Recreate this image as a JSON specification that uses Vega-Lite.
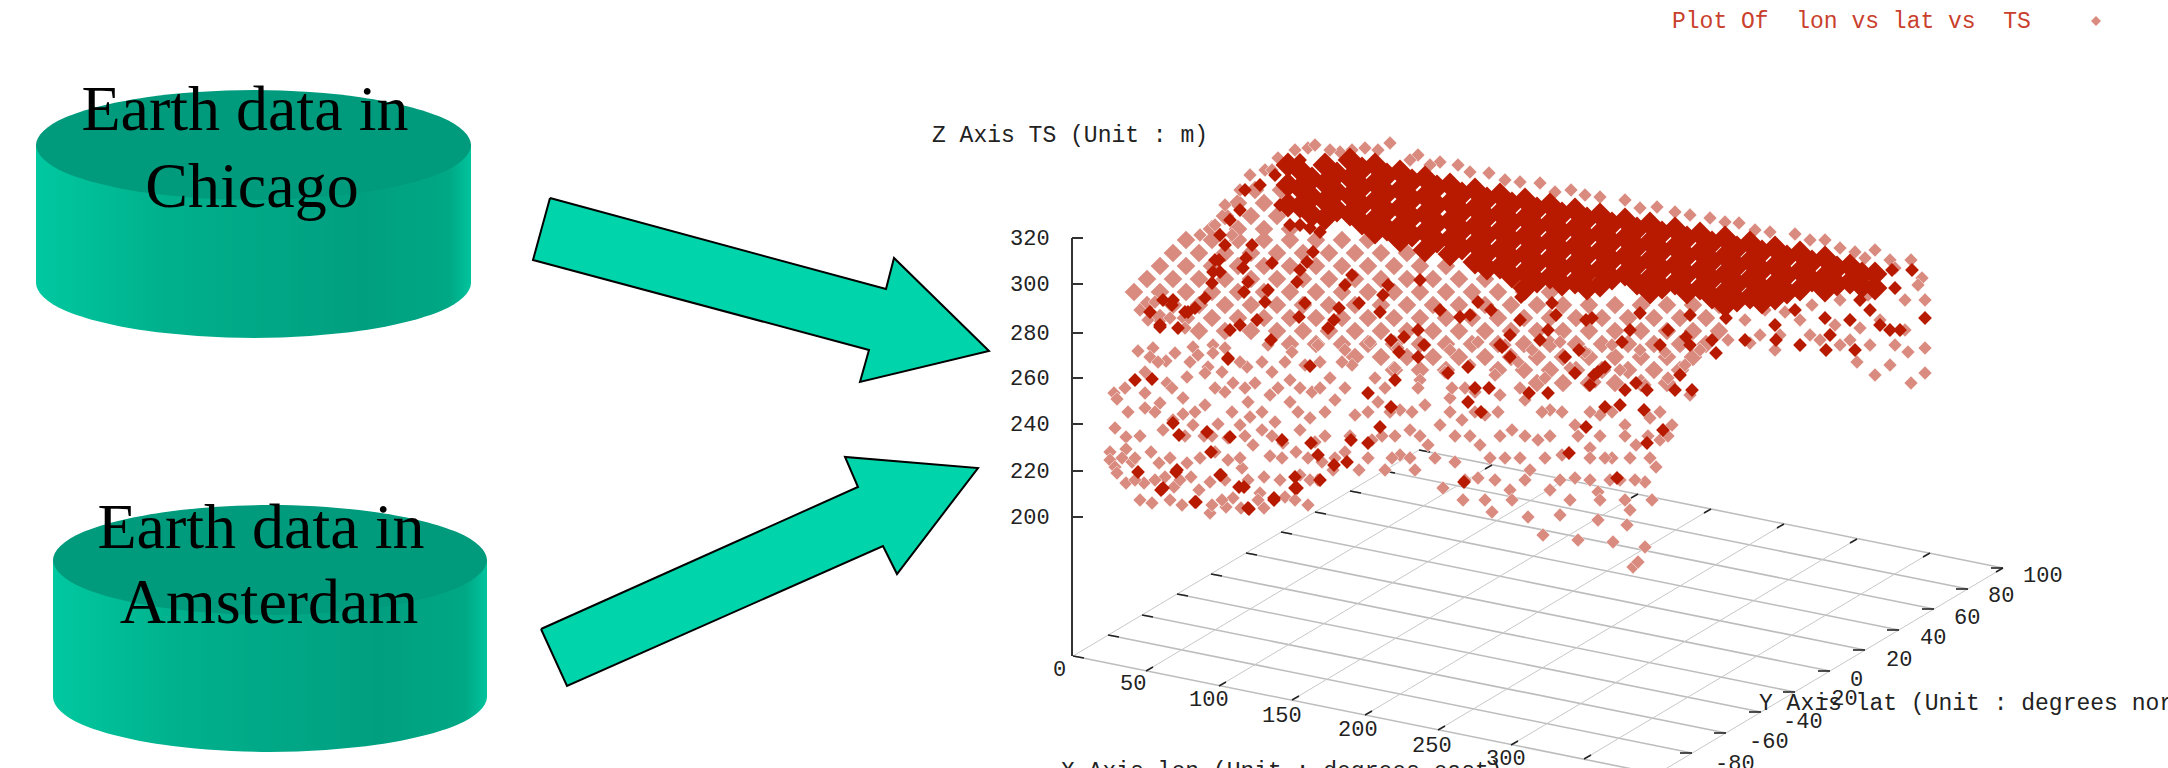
{"$schema":"https://vega.github.io/schema/vega-lite/v6.json","width":2168,"height":768,"padding":0,"autosize":{"type":"none"},"background":"white","config":{"view":{"stroke":null}},
"datasets":{
"ell":[
{"s":"c1b","o":1,"x":471,"y":283},{"s":"c1b","o":2,"x":442,"y":310.5},{"s":"c1b","o":3,"x":362,"y":330.6},{"s":"c1b","o":4,"x":254,"y":338},{"s":"c1b","o":5,"x":145,"y":330.6},{"s":"c1b","o":6,"x":65,"y":310.5},{"s":"c1b","o":7,"x":36,"y":283},{"s":"c1b","o":8,"x":65,"y":255.5},{"s":"c1b","o":9,"x":145,"y":235.4},{"s":"c1b","o":10,"x":254,"y":228},{"s":"c1b","o":11,"x":362,"y":235.4},{"s":"c1b","o":12,"x":442,"y":255.5},
{"s":"c2b","o":1,"x":487,"y":697},{"s":"c2b","o":2,"x":458,"y":724.5},{"s":"c2b","o":3,"x":378,"y":744.6},{"s":"c2b","o":4,"x":270,"y":752},{"s":"c2b","o":5,"x":162,"y":744.6},{"s":"c2b","o":6,"x":82,"y":724.5},{"s":"c2b","o":7,"x":53,"y":697},{"s":"c2b","o":8,"x":82,"y":669.5},{"s":"c2b","o":9,"x":162,"y":649.4},{"s":"c2b","o":10,"x":270,"y":642},{"s":"c2b","o":11,"x":378,"y":649.4},{"s":"c2b","o":12,"x":458,"y":669.5}],
"top":[
{"s":"c1t","o":1,"x":471,"y":145},{"s":"c1t","o":2,"x":442,"y":172.5},{"s":"c1t","o":3,"x":362,"y":192.6},{"s":"c1t","o":4,"x":254,"y":200},{"s":"c1t","o":5,"x":145,"y":192.6},{"s":"c1t","o":6,"x":65,"y":172.5},{"s":"c1t","o":7,"x":36,"y":145},{"s":"c1t","o":8,"x":65,"y":117.5},{"s":"c1t","o":9,"x":145,"y":97.4},{"s":"c1t","o":10,"x":254,"y":90},{"s":"c1t","o":11,"x":362,"y":97.4},{"s":"c1t","o":12,"x":442,"y":117.5},
{"s":"c2t","o":1,"x":487,"y":560},{"s":"c2t","o":2,"x":458,"y":587.5},{"s":"c2t","o":3,"x":378,"y":607.6},{"s":"c2t","o":4,"x":270,"y":615},{"s":"c2t","o":5,"x":162,"y":607.6},{"s":"c2t","o":6,"x":82,"y":587.5},{"s":"c2t","o":7,"x":53,"y":560},{"s":"c2t","o":8,"x":82,"y":532.5},{"s":"c2t","o":9,"x":162,"y":512.4},{"s":"c2t","o":10,"x":270,"y":505},{"s":"c2t","o":11,"x":378,"y":512.4},{"s":"c2t","o":12,"x":458,"y":532.5}],
"sides":[{"x":36,"x2":471,"y":145,"y2":283},{"x":53,"x2":487,"y":560,"y2":697}],
"arrows":[
{"s":"a1","o":1,"x":550,"y":198},{"s":"a1","o":2,"x":886,"y":289},{"s":"a1","o":3,"x":894,"y":258},{"s":"a1","o":4,"x":989,"y":351},{"s":"a1","o":5,"x":860,"y":382},{"s":"a1","o":6,"x":869,"y":350},{"s":"a1","o":7,"x":533,"y":260},{"s":"a1","o":8,"x":550,"y":198},
{"s":"a2","o":1,"x":541,"y":629},{"s":"a2","o":2,"x":858,"y":487},{"s":"a2","o":3,"x":845,"y":457},{"s":"a2","o":4,"x":978,"y":468},{"s":"a2","o":5,"x":897,"y":574},{"s":"a2","o":6,"x":883,"y":546},{"s":"a2","o":7,"x":567,"y":686},{"s":"a2","o":8,"x":541,"y":629}],
"latg":[{"x":1073,"y":656,"x2":1657,"y2":774},{"x":1108,"y":635,"x2":1692,"y2":753},{"x":1142,"y":615,"x2":1726,"y2":733},{"x":1177,"y":594,"x2":1761,"y2":712},{"x":1211,"y":574,"x2":1795,"y2":692},{"x":1246,"y":553,"x2":1830,"y2":671},{"x":1281,"y":532,"x2":1865,"y2":650},{"x":1315,"y":512,"x2":1899,"y2":630},{"x":1350,"y":491,"x2":1934,"y2":609},{"x":1384,"y":471,"x2":1968,"y2":589},{"x":1419,"y":450,"x2":2003,"y2":568}],
"long":[{"x":1073,"y":656,"x2":1419,"y2":450},{"x":1146,"y":671,"x2":1492,"y2":465},{"x":1219,"y":686,"x2":1565,"y2":480},{"x":1292,"y":700,"x2":1638,"y2":494},{"x":1365,"y":715,"x2":1711,"y2":509},{"x":1438,"y":730,"x2":1784,"y2":524},{"x":1511,"y":745,"x2":1857,"y2":539},{"x":1584,"y":759,"x2":1930,"y2":553},{"x":1657,"y":774,"x2":2003,"y2":568}],
"ticks":[{"x":1073,"y":656,"x2":1084,"y2":658},{"x":1108,"y":635,"x2":1119,"y2":637},{"x":1142,"y":615,"x2":1153,"y2":617},{"x":1177,"y":594,"x2":1188,"y2":596},{"x":1211,"y":574,"x2":1222,"y2":576},{"x":1246,"y":553,"x2":1257,"y2":555},{"x":1281,"y":532,"x2":1292,"y2":534},{"x":1315,"y":512,"x2":1326,"y2":514},{"x":1350,"y":491,"x2":1361,"y2":493},{"x":1384,"y":471,"x2":1395,"y2":473},{"x":1419,"y":450,"x2":1430,"y2":452},
{"x":1680,"y":753,"x2":1692,"y2":753},{"x":1714,"y":733,"x2":1726,"y2":733},{"x":1749,"y":712,"x2":1761,"y2":712},{"x":1783,"y":692,"x2":1795,"y2":692},{"x":1818,"y":671,"x2":1830,"y2":671},{"x":1853,"y":650,"x2":1865,"y2":650},{"x":1887,"y":630,"x2":1899,"y2":630},{"x":1922,"y":609,"x2":1934,"y2":609},{"x":1956,"y":589,"x2":1968,"y2":589},{"x":1991,"y":568,"x2":2003,"y2":568},
{"x":1146,"y":671,"x2":1153,"y2":667},{"x":1219,"y":686,"x2":1226,"y2":682},{"x":1292,"y":700,"x2":1299,"y2":696},{"x":1365,"y":715,"x2":1372,"y2":711},{"x":1438,"y":730,"x2":1445,"y2":726},{"x":1511,"y":745,"x2":1518,"y2":741},{"x":1584,"y":759,"x2":1591,"y2":755},
{"x":1492,"y":465,"x2":1485,"y2":469},{"x":1565,"y":480,"x2":1558,"y2":484},{"x":1638,"y":494,"x2":1631,"y2":498},{"x":1711,"y":509,"x2":1704,"y2":513},{"x":1784,"y":524,"x2":1777,"y2":528},{"x":1857,"y":539,"x2":1850,"y2":543},{"x":1930,"y":553,"x2":1923,"y2":557},{"x":2003,"y":568,"x2":1996,"y2":572}],
"zaxis":[{"x":1072,"y":238,"x2":1072,"y2":656},{"x":1072,"y":238,"x2":1083,"y2":238},{"x":1072,"y":284,"x2":1083,"y2":284},{"x":1072,"y":333,"x2":1083,"y2":333},{"x":1072,"y":378,"x2":1083,"y2":378},{"x":1072,"y":424,"x2":1083,"y2":424},{"x":1072,"y":471,"x2":1083,"y2":471},{"x":1072,"y":517,"x2":1083,"y2":517}],
"back":[
{"x":1255,"y":190},{"x":1281,"y":190},{"x":1238,"y":203},{"x":1264,"y":203},{"x":1290,"y":203},{"x":1225,"y":216},{"x":1251,"y":216},{"x":1277,"y":216},{"x":1212,"y":229},{"x":1238,"y":229},{"x":1264,"y":229},{"x":1290,"y":229},
{"x":1186,"y":240},{"x":1212,"y":240},{"x":1238,"y":240},{"x":1264,"y":240},{"x":1290,"y":240},{"x":1316,"y":240},{"x":1342,"y":240},{"x":1368,"y":240},
{"x":1173,"y":253},{"x":1199,"y":253},{"x":1225,"y":253},{"x":1251,"y":253},{"x":1277,"y":253},{"x":1303,"y":253},{"x":1329,"y":253},{"x":1355,"y":253},{"x":1381,"y":253},{"x":1407,"y":253},
{"x":1160,"y":266},{"x":1186,"y":266},{"x":1212,"y":266},{"x":1238,"y":266},{"x":1264,"y":266},{"x":1290,"y":266},{"x":1316,"y":266},{"x":1342,"y":266},{"x":1368,"y":266},{"x":1394,"y":266},{"x":1420,"y":266},{"x":1446,"y":266},
{"x":1147,"y":279},{"x":1173,"y":279},{"x":1199,"y":279},{"x":1225,"y":279},{"x":1251,"y":279},{"x":1277,"y":279},{"x":1303,"y":279},{"x":1329,"y":279},{"x":1355,"y":279},{"x":1381,"y":279},{"x":1407,"y":279},{"x":1433,"y":279},{"x":1459,"y":279},{"x":1485,"y":279},
{"x":1134,"y":292},{"x":1160,"y":292},{"x":1186,"y":292},{"x":1212,"y":292},{"x":1238,"y":292},{"x":1264,"y":292},{"x":1290,"y":292},{"x":1316,"y":292},{"x":1342,"y":292},{"x":1368,"y":292},{"x":1394,"y":292},{"x":1420,"y":292},{"x":1446,"y":292},{"x":1472,"y":292},{"x":1498,"y":292},{"x":1524,"y":292},{"x":1550,"y":292},
{"x":1147,"y":305},{"x":1173,"y":305},{"x":1199,"y":305},{"x":1225,"y":305},{"x":1251,"y":305},{"x":1277,"y":305},{"x":1303,"y":305},{"x":1329,"y":305},{"x":1355,"y":305},{"x":1381,"y":305},{"x":1407,"y":305},{"x":1433,"y":305},{"x":1459,"y":305},{"x":1485,"y":305},{"x":1511,"y":305},{"x":1537,"y":305},{"x":1563,"y":305},{"x":1589,"y":305},{"x":1615,"y":305},{"x":1641,"y":305},{"x":1667,"y":305},{"x":1693,"y":305},{"x":1719,"y":305},
{"x":1160,"y":318},{"x":1186,"y":318},{"x":1212,"y":318},{"x":1238,"y":318},{"x":1264,"y":318},{"x":1290,"y":318},{"x":1316,"y":318},{"x":1342,"y":318},{"x":1368,"y":318},{"x":1394,"y":318},{"x":1420,"y":318},{"x":1446,"y":318},{"x":1472,"y":318},{"x":1498,"y":318},{"x":1524,"y":318},{"x":1550,"y":318},{"x":1576,"y":318},{"x":1602,"y":318},{"x":1628,"y":318},{"x":1654,"y":318},{"x":1680,"y":318},{"x":1706,"y":318},
{"x":1199,"y":331},{"x":1225,"y":331},{"x":1251,"y":331},{"x":1277,"y":331},{"x":1303,"y":331},{"x":1329,"y":331},{"x":1355,"y":331},{"x":1381,"y":331},{"x":1407,"y":331},{"x":1433,"y":331},{"x":1459,"y":331},{"x":1485,"y":331},{"x":1511,"y":331},{"x":1537,"y":331},{"x":1563,"y":331},{"x":1589,"y":331},{"x":1615,"y":331},{"x":1641,"y":331},{"x":1667,"y":331},{"x":1693,"y":331},{"x":1719,"y":331},
{"x":1290,"y":344},{"x":1316,"y":344},{"x":1342,"y":344},{"x":1368,"y":344},{"x":1394,"y":344},{"x":1420,"y":344},{"x":1446,"y":344},{"x":1472,"y":344},{"x":1498,"y":344},{"x":1524,"y":344},{"x":1550,"y":344},{"x":1576,"y":344},{"x":1602,"y":344},{"x":1628,"y":344},{"x":1654,"y":344},{"x":1680,"y":344},{"x":1706,"y":344},
{"x":1355,"y":357},{"x":1381,"y":357},{"x":1407,"y":357},{"x":1433,"y":357},{"x":1459,"y":357},{"x":1485,"y":357},{"x":1511,"y":357},{"x":1537,"y":357},{"x":1563,"y":357},{"x":1589,"y":357},{"x":1615,"y":357},{"x":1641,"y":357},{"x":1667,"y":357},{"x":1693,"y":357},
{"x":1394,"y":370},{"x":1420,"y":370},{"x":1446,"y":370},{"x":1498,"y":370},{"x":1524,"y":370},{"x":1550,"y":370},{"x":1576,"y":370},{"x":1602,"y":370},{"x":1628,"y":370},{"x":1654,"y":370},{"x":1680,"y":370},
{"x":1537,"y":383},{"x":1563,"y":383},{"x":1589,"y":383},{"x":1615,"y":383},{"x":1641,"y":383},{"x":1667,"y":383}],
"pale":[
{"x":1114,"y":393},{"x":1117,"y":399},{"x":1145,"y":393},{"x":1145,"y":408},{"x":1115,"y":428},{"x":1126,"y":437},{"x":1110,"y":452},{"x":1110,"y":460},{"x":1115,"y":467},{"x":1117,"y":473},{"x":1126,"y":449},{"x":1122,"y":458},{"x":1132,"y":462},{"x":1126,"y":483},{"x":1144,"y":483},{"x":1151,"y":452},{"x":1159,"y":463},{"x":1152,"y":503},{"x":1174,"y":487},{"x":1165,"y":477},{"x":1182,"y":505},{"x":1187,"y":463},{"x":1191,"y":477},{"x":1210,"y":513},{"x":1212,"y":505},{"x":1226,"y":507},{"x":1233,"y":498},{"x":1241,"y":508},{"x":1264,"y":508},{"x":1285,"y":497},{"x":1308,"y":505},{"x":1260,"y":493},{"x":1264,"y":477},{"x":1210,"y":482},{"x":1199,"y":490},{"x":1173,"y":420},{"x":1183,"y":414},{"x":1193,"y":425},{"x":1163,"y":430},{"x":1204,"y":436},{"x":1218,"y":424},{"x":1228,"y":438},{"x":1240,"y":425},{"x":1250,"y":417},{"x":1262,"y":430},{"x":1275,"y":422},{"x":1253,"y":445},{"x":1270,"y":456},{"x":1283,"y":443},{"x":1296,"y":452},{"x":1300,"y":430},{"x":1310,"y":418},{"x":1315,"y":442},{"x":1322,"y":462},{"x":1228,"y":460},{"x":1242,"y":468},{"x":1215,"y":452},{"x":1300,"y":475},{"x":1318,"y":480},{"x":1333,"y":470},{"x":1345,"y":452},{"x":1359,"y":470},{"x":1372,"y":440},{"x":1385,"y":470},{"x":1400,"y":455},{"x":1415,"y":470},{"x":1410,"y":430},{"x":1428,"y":445},{"x":1443,"y":488},{"x":1463,"y":500},{"x":1478,"y":478},{"x":1492,"y":512},{"x":1510,"y":490},{"x":1528,"y":517},{"x":1543,"y":535},{"x":1578,"y":540},{"x":1560,"y":515},{"x":1598,"y":520},{"x":1613,"y":542},{"x":1627,"y":525},{"x":1645,"y":547},{"x":1633,"y":567},{"x":1638,"y":562},{"x":1630,"y":510},{"x":1652,"y":500},{"x":1645,"y":482},{"x":1656,"y":467},{"x":1620,"y":480},{"x":1598,"y":492},{"x":1575,"y":478},{"x":1550,"y":490},{"x":1530,"y":470},{"x":1505,"y":458},{"x":1480,"y":445},{"x":1455,"y":462},{"x":1440,"y":425},{"x":1462,"y":420},{"x":1485,"y":415},{"x":1512,"y":430},{"x":1538,"y":440},{"x":1562,"y":455},{"x":1590,"y":448},{"x":1612,"y":458},{"x":1636,"y":445},{"x":1660,"y":440},{"x":1672,"y":425},{"x":1650,"y":418},{"x":1625,"y":425},{"x":1600,"y":415},{"x":1575,"y":425},{"x":1550,"y":410},{"x":1525,"y":400},{"x":1500,"y":395},{"x":1475,"y":392},{"x":1450,"y":398},{"x":1425,"y":405},{"x":1400,"y":410},{"x":1378,"y":402},{"x":1355,"y":415},{"x":1335,"y":400},{"x":1312,"y":392},{"x":1290,"y":402},{"x":1270,"y":395},{"x":1248,"y":402},{"x":1225,"y":392},{"x":1205,"y":405},{"x":1183,"y":398},{"x":1160,"y":403},
{"x":1138,"y":351},{"x":1153,"y":348},{"x":1150,"y":357},{"x":1175,"y":353},{"x":1166,"y":361},{"x":1193,"y":347},{"x":1198,"y":355},{"x":1213,"y":345},{"x":1225,"y":348},{"x":1213,"y":353},{"x":1247,"y":367},{"x":1208,"y":367},{"x":1205,"y":373},{"x":1222,"y":372},{"x":1233,"y":383},{"x":1255,"y":383},{"x":1187,"y":377},{"x":1167,"y":383},{"x":1145,"y":372},{"x":1272,"y":372},{"x":1290,"y":380},{"x":1305,"y":365},{"x":1330,"y":378},{"x":1352,"y":365},{"x":1375,"y":378},{"x":1395,"y":368},{"x":1420,"y":380},{"x":1445,"y":372},{"x":1470,"y":365},{"x":1495,"y":375},{"x":1518,"y":362},{"x":1545,"y":378},{"x":1570,"y":368},{"x":1595,"y":382},{"x":1620,"y":370},{"x":1645,"y":385},{"x":1668,"y":378},{"x":1690,"y":395},{"x":1685,"y":365},{"x":1700,"y":350},{"x":1665,"y":352},{"x":1640,"y":350},{"x":1612,"y":345},{"x":1585,"y":352},{"x":1560,"y":342},{"x":1532,"y":350},{"x":1505,"y":345},{"x":1478,"y":342},{"x":1450,"y":350},{"x":1425,"y":345},{"x":1398,"y":348},{"x":1370,"y":342},{"x":1345,"y":350},{"x":1318,"y":345},{"x":1292,"y":352},{"x":1268,"y":345},
{"x":1140,"y":310},{"x":1155,"y":302},{"x":1148,"y":320},{"x":1170,"y":318},{"x":1185,"y":328},{"x":1728,"y":340},{"x":1745,"y":320},{"x":1760,"y":335},{"x":1775,"y":350},{"x":1750,"y":343},{"x":1800,"y":320},{"x":1820,"y":340},{"x":1835,"y":325},{"x":1857,"y":362},{"x":1850,"y":340},{"x":1870,"y":345},{"x":1875,"y":375},{"x":1890,"y":365},{"x":1911,"y":383},{"x":1925,"y":373},{"x":1925,"y":348},{"x":1905,"y":330},{"x":1925,"y":300},{"x":1922,"y":278},{"x":1918,"y":285},{"x":1911,"y":260},{"x":1890,"y":260},{"x":1880,"y":320},{"x":1895,"y":345},{"x":1765,"y":310},{"x":1785,"y":312},{"x":1812,"y":305},{"x":1840,"y":300},{"x":1868,"y":295},{"x":1905,"y":300},{"x":1860,"y":328},{"x":1810,"y":335},{"x":1780,"y":335},{"x":1840,"y":345},{"x":1908,"y":352},
{"x":1200,"y":235},{"x":1215,"y":225},{"x":1232,"y":235},{"x":1225,"y":205},{"x":1240,"y":190},{"x":1250,"y":175},{"x":1265,"y":170},{"x":1278,"y":158},{"x":1295,"y":150},{"x":1308,"y":148},{"x":1315,"y":145},{"x":1340,"y":152},{"x":1365,"y":148},{"x":1390,"y":143},{"x":1418,"y":155},{"x":1440,"y":162},{"x":1458,"y":165},{"x":1489,"y":173},{"x":1520,"y":182},{"x":1540,"y":183},{"x":1571,"y":190},{"x":1600,"y":197},{"x":1625,"y":200},{"x":1657,"y":207},{"x":1690,"y":215},{"x":1710,"y":218},{"x":1739,"y":223},{"x":1770,"y":232},{"x":1795,"y":234},{"x":1825,"y":240},{"x":1855,"y":252},{"x":1875,"y":250},{"x":1410,"y":160},{"x":1430,"y":165},{"x":1470,"y":172},{"x":1505,"y":180},{"x":1555,"y":192},{"x":1585,"y":195},{"x":1640,"y":208},{"x":1675,"y":212},{"x":1725,"y":222},{"x":1755,"y":230},{"x":1810,"y":240},{"x":1840,"y":248},{"x":1865,"y":258},{"x":1895,"y":268},{"x":1330,"y":150},{"x":1352,"y":150},{"x":1378,"y":150},{"x":1272,"y":170},{"x":1285,"y":165},
{"x":1158,"y":362},{"x":1190,"y":362},{"x":1240,"y":362},{"x":1262,"y":362},{"x":1285,"y":362},{"x":1320,"y":362},{"x":1342,"y":362},{"x":1125,"y":388},{"x":1172,"y":388},{"x":1215,"y":388},{"x":1245,"y":388},{"x":1278,"y":388},{"x":1300,"y":388},{"x":1320,"y":388},{"x":1345,"y":388},{"x":1385,"y":388},{"x":1418,"y":388},{"x":1452,"y":388},{"x":1465,"y":388},{"x":1520,"y":388},{"x":1128,"y":412},{"x":1155,"y":412},{"x":1195,"y":412},{"x":1232,"y":412},{"x":1262,"y":412},{"x":1298,"y":412},{"x":1325,"y":412},{"x":1368,"y":412},{"x":1390,"y":412},{"x":1412,"y":412},{"x":1450,"y":412},{"x":1475,"y":412},{"x":1498,"y":412},{"x":1542,"y":412},{"x":1562,"y":412},{"x":1590,"y":412},{"x":1612,"y":412},{"x":1660,"y":412},{"x":1140,"y":436},{"x":1185,"y":436},{"x":1212,"y":436},{"x":1245,"y":436},{"x":1272,"y":436},{"x":1325,"y":436},{"x":1350,"y":436},{"x":1382,"y":436},{"x":1395,"y":436},{"x":1420,"y":436},{"x":1455,"y":436},{"x":1470,"y":436},{"x":1500,"y":436},{"x":1525,"y":436},{"x":1550,"y":436},{"x":1578,"y":436},{"x":1600,"y":436},{"x":1625,"y":436},{"x":1648,"y":436},{"x":1668,"y":436},{"x":1135,"y":458},{"x":1170,"y":458},{"x":1200,"y":458},{"x":1240,"y":458},{"x":1282,"y":458},{"x":1308,"y":458},{"x":1335,"y":458},{"x":1368,"y":458},{"x":1392,"y":458},{"x":1410,"y":458},{"x":1435,"y":458},{"x":1490,"y":458},{"x":1520,"y":458},{"x":1545,"y":458},{"x":1590,"y":458},{"x":1605,"y":458},{"x":1630,"y":458},{"x":1650,"y":458},{"x":1135,"y":480},{"x":1155,"y":480},{"x":1180,"y":480},{"x":1225,"y":480},{"x":1248,"y":480},{"x":1280,"y":480},{"x":1310,"y":480},{"x":1465,"y":480},{"x":1495,"y":480},{"x":1525,"y":480},{"x":1560,"y":480},{"x":1590,"y":480},{"x":1610,"y":480},{"x":1635,"y":480},{"x":1140,"y":500},{"x":1170,"y":500},{"x":1222,"y":500},{"x":1258,"y":500},{"x":1295,"y":500},{"x":1485,"y":500},{"x":1512,"y":500},{"x":1570,"y":500},{"x":1600,"y":500},{"x":1625,"y":500}
],
"solid":[
{"x":1135,"y":380},{"x":1152,"y":379},{"x":1138,"y":472},{"x":1163,"y":488},{"x":1195,"y":502},{"x":1176,"y":472},{"x":1249,"y":509},{"x":1274,"y":500},{"x":1297,"y":488},{"x":1239,"y":487},{"x":1220,"y":475},{"x":1228,"y":359},{"x":1150,"y":312},{"x":1163,"y":300},{"x":1172,"y":305},{"x":1185,"y":312},{"x":1195,"y":308},{"x":1160,"y":325},{"x":1178,"y":328},{"x":1205,"y":298},{"x":1212,"y":283},{"x":1220,"y":272},{"x":1215,"y":260},{"x":1225,"y":245},{"x":1243,"y":268},{"x":1246,"y":258},{"x":1252,"y":245},{"x":1265,"y":302},{"x":1268,"y":290},{"x":1300,"y":270},{"x":1307,"y":262},{"x":1313,"y":252},{"x":1345,"y":285},{"x":1352,"y":275},{"x":1383,"y":295},{"x":1388,"y":285},{"x":1420,"y":280},{"x":1440,"y":310},{"x":1470,"y":315},{"x":1478,"y":302},{"x":1500,"y":345},{"x":1510,"y":335},{"x":1520,"y":320},{"x":1540,"y":340},{"x":1548,"y":330},{"x":1556,"y":315},{"x":1592,"y":318},{"x":1622,"y":342},{"x":1630,"y":330},{"x":1660,"y":345},{"x":1668,"y":330},{"x":1690,"y":315},{"x":1675,"y":390},{"x":1680,"y":375},{"x":1690,"y":345},{"x":1620,"y":405},{"x":1625,"y":390},{"x":1590,"y":385},{"x":1598,"y":372},{"x":1230,"y":330},{"x":1240,"y":325},{"x":1712,"y":340},{"x":1726,"y":318},{"x":1745,"y":340},{"x":1776,"y":340},{"x":1775,"y":325},{"x":1800,"y":345},{"x":1795,"y":310},{"x":1825,"y":318},{"x":1830,"y":335},{"x":1826,"y":350},{"x":1850,"y":320},{"x":1855,"y":350},{"x":1880,"y":325},{"x":1890,"y":330},{"x":1925,"y":318},{"x":1895,"y":288},{"x":1892,"y":270},{"x":1912,"y":270},{"x":1870,"y":310},{"x":1860,"y":300},{"x":1900,"y":330},{"x":1300,"y":225},{"x":1310,"y":228},{"x":1320,"y":232},{"x":1245,"y":190},{"x":1260,"y":185},{"x":1275,"y":175},{"x":1240,"y":210},{"x":1230,"y":220},{"x":1280,"y":205},{"x":1290,"y":225},{"x":1220,"y":235},{"x":1300,"y":160},
{"x":1160,"y":327},{"x":1173,"y":300},{"x":1188,"y":312},{"x":1219,"y":260},{"x":1213,"y":272},{"x":1248,"y":282},{"x":1244,"y":292},{"x":1257,"y":320},{"x":1271,"y":340},{"x":1272,"y":263},{"x":1297,"y":282},{"x":1305,"y":303},{"x":1299,"y":317},{"x":1334,"y":320},{"x":1339,"y":308},{"x":1328,"y":328},{"x":1359,"y":303},{"x":1380,"y":312},{"x":1391,"y":340},{"x":1404,"y":337},{"x":1424,"y":345},{"x":1418,"y":357},{"x":1399,"y":352},{"x":1395,"y":380},{"x":1368,"y":393},{"x":1391,"y":407},{"x":1468,"y":402},{"x":1481,"y":412},{"x":1475,"y":388},{"x":1489,"y":388},{"x":1529,"y":393},{"x":1548,"y":393},{"x":1575,"y":373},{"x":1594,"y":375},{"x":1605,"y":367},{"x":1636,"y":383},{"x":1647,"y":390},{"x":1644,"y":410},{"x":1663,"y":430},{"x":1586,"y":427},{"x":1605,"y":407},{"x":1692,"y":390},{"x":1565,"y":357},{"x":1579,"y":350},{"x":1510,"y":357},{"x":1502,"y":347},{"x":1468,"y":367},{"x":1448,"y":373},{"x":1418,"y":330},{"x":1460,"y":317},{"x":1491,"y":310},{"x":1521,"y":297},{"x":1552,"y":303},{"x":1586,"y":320},{"x":1640,"y":313},{"x":1686,"y":337},{"x":1716,"y":353},
{"x":1230,"y":437},{"x":1211,"y":452},{"x":1282,"y":440},{"x":1311,"y":443},{"x":1318,"y":455},{"x":1351,"y":440},{"x":1368,"y":443},{"x":1380,"y":427},{"x":1334,"y":465},{"x":1347,"y":462},{"x":1320,"y":480},{"x":1295,"y":477},{"x":1295,"y":488},{"x":1274,"y":498},{"x":1244,"y":487},{"x":1248,"y":508},{"x":1221,"y":475},{"x":1196,"y":502},{"x":1161,"y":490},{"x":1177,"y":470},{"x":1173,"y":423},{"x":1179,"y":435},{"x":1207,"y":432},{"x":1228,"y":358},{"x":1310,"y":366},{"x":1464,"y":482},{"x":1569,"y":453},{"x":1617,"y":478},{"x":1647,"y":443}
],
"core":[
{"x":1300,"y":170},{"x":1300,"y":188},{"x":1300,"y":206},{"x":1325,"y":165},{"x":1325,"y":183},{"x":1325,"y":201},{"x":1325,"y":218},{"x":1350,"y":160},{"x":1350,"y":178},{"x":1350,"y":196},{"x":1350,"y":214},{"x":1375,"y":165},{"x":1375,"y":183},{"x":1375,"y":201},{"x":1375,"y":219},{"x":1375,"y":232},{"x":1400,"y":172},{"x":1400,"y":190},{"x":1400,"y":208},{"x":1400,"y":226},{"x":1400,"y":240},{"x":1425,"y":178},{"x":1425,"y":196},{"x":1425,"y":214},{"x":1425,"y":232},{"x":1425,"y":250},{"x":1450,"y":185},{"x":1450,"y":203},{"x":1450,"y":221},{"x":1450,"y":239},{"x":1450,"y":254},{"x":1475,"y":190},{"x":1475,"y":208},{"x":1475,"y":226},{"x":1475,"y":244},{"x":1475,"y":262},{"x":1500,"y":195},{"x":1500,"y":213},{"x":1500,"y":231},{"x":1500,"y":249},{"x":1500,"y":267},{"x":1525,"y":200},{"x":1525,"y":218},{"x":1525,"y":236},{"x":1525,"y":254},{"x":1525,"y":272},{"x":1525,"y":288},{"x":1550,"y":205},{"x":1550,"y":223},{"x":1550,"y":241},{"x":1550,"y":259},{"x":1550,"y":277},{"x":1575,"y":210},{"x":1575,"y":228},{"x":1575,"y":246},{"x":1575,"y":264},{"x":1575,"y":282},{"x":1600,"y":215},{"x":1600,"y":233},{"x":1600,"y":251},{"x":1600,"y":269},{"x":1600,"y":285},{"x":1625,"y":220},{"x":1625,"y":238},{"x":1625,"y":256},{"x":1625,"y":274},{"x":1650,"y":224},{"x":1650,"y":242},{"x":1650,"y":260},{"x":1650,"y":278},{"x":1650,"y":292},{"x":1675,"y":229},{"x":1675,"y":247},{"x":1675,"y":265},{"x":1675,"y":283},{"x":1700,"y":234},{"x":1700,"y":252},{"x":1700,"y":270},{"x":1700,"y":288},{"x":1725,"y":238},{"x":1725,"y":256},{"x":1725,"y":274},{"x":1725,"y":292},{"x":1725,"y":305},{"x":1750,"y":243},{"x":1750,"y":261},{"x":1750,"y":279},{"x":1750,"y":297},{"x":1775,"y":248},{"x":1775,"y":266},{"x":1775,"y":284},{"x":1775,"y":298},{"x":1800,"y":253},{"x":1800,"y":271},{"x":1800,"y":289},{"x":1825,"y":258},{"x":1825,"y":276},{"x":1825,"y":290},{"x":1850,"y":266},{"x":1850,"y":282},{"x":1875,"y":274},{"x":1875,"y":288},
{"x":1288,"y":165},{"x":1288,"y":185},{"x":1288,"y":205},{"x":1312,"y":179},{"x":1312,"y":197},{"x":1312,"y":215},{"x":1337,"y":174},{"x":1337,"y":192},{"x":1337,"y":210},{"x":1362,"y":169},{"x":1362,"y":187},{"x":1362,"y":205},{"x":1362,"y":223},{"x":1387,"y":175},{"x":1387,"y":193},{"x":1387,"y":211},{"x":1387,"y":229},{"x":1412,"y":181},{"x":1412,"y":199},{"x":1412,"y":217},{"x":1412,"y":235},{"x":1437,"y":187},{"x":1437,"y":205},{"x":1437,"y":223},{"x":1437,"y":241},{"x":1462,"y":194},{"x":1462,"y":212},{"x":1462,"y":230},{"x":1462,"y":248},{"x":1487,"y":199},{"x":1487,"y":217},{"x":1487,"y":235},{"x":1487,"y":253},{"x":1487,"y":268},{"x":1512,"y":204},{"x":1512,"y":222},{"x":1512,"y":240},{"x":1512,"y":258},{"x":1512,"y":276},{"x":1537,"y":209},{"x":1537,"y":227},{"x":1537,"y":245},{"x":1537,"y":263},{"x":1537,"y":281},{"x":1562,"y":214},{"x":1562,"y":232},{"x":1562,"y":250},{"x":1562,"y":268},{"x":1562,"y":284},{"x":1587,"y":219},{"x":1587,"y":237},{"x":1587,"y":255},{"x":1587,"y":273},{"x":1587,"y":288},{"x":1612,"y":224},{"x":1612,"y":242},{"x":1612,"y":260},{"x":1612,"y":278},{"x":1637,"y":229},{"x":1637,"y":247},{"x":1637,"y":265},{"x":1637,"y":283},{"x":1662,"y":233},{"x":1662,"y":251},{"x":1662,"y":269},{"x":1662,"y":287},{"x":1687,"y":238},{"x":1687,"y":256},{"x":1687,"y":274},{"x":1687,"y":292},{"x":1712,"y":243},{"x":1712,"y":261},{"x":1712,"y":279},{"x":1712,"y":297},{"x":1737,"y":248},{"x":1737,"y":266},{"x":1737,"y":284},{"x":1737,"y":300},{"x":1762,"y":252},{"x":1762,"y":270},{"x":1762,"y":288},{"x":1762,"y":302},{"x":1787,"y":257},{"x":1787,"y":275},{"x":1787,"y":292},{"x":1812,"y":262},{"x":1812,"y":280},{"x":1837,"y":268},{"x":1837,"y":284},{"x":1862,"y":274},{"x":1862,"y":286}],
"serif":[{"x":245,"y":111,"t":"Earth data in"},{"x":252,"y":188,"t":"Chicago"},{"x":261,"y":529,"t":"Earth data in"},{"x":269,"y":604,"t":"Amsterdam"}],
"mono":[{"x":1010,"y":238,"t":"320"},{"x":1010,"y":284,"t":"300"},{"x":1010,"y":333,"t":"280"},{"x":1010,"y":378,"t":"260"},{"x":1010,"y":424,"t":"240"},{"x":1010,"y":471,"t":"220"},{"x":1010,"y":517,"t":"200"},{"x":1053,"y":669,"t":"0"},{"x":1120,"y":683,"t":"50"},{"x":1189,"y":699,"t":"100"},{"x":1262,"y":715,"t":"150"},{"x":1338,"y":729,"t":"200"},{"x":1412,"y":745,"t":"250"},{"x":1486,"y":758,"t":"300"},{"x":2023,"y":575,"t":"100"},{"x":1988,"y":595,"t":"80"},{"x":1954,"y":617,"t":"60"},{"x":1920,"y":637,"t":"40"},{"x":1886,"y":659,"t":"20"},{"x":1850,"y":679,"t":"0"},{"x":1818,"y":698,"t":"-20"},{"x":1783,"y":721,"t":"-40"},{"x":1749,"y":741,"t":"-60"},{"x":1715,"y":763,"t":"-80"}],
"titles":[{"x":932,"y":135,"t":"Z Axis TS (Unit : m)"},{"x":1759,"y":703,"t":"Y Axis lat (Unit : degrees nor"},{"x":1061,"y":771,"t":"X Axis lon (Unit : degrees east)"}],
"plot":[{"x":1672,"y":21,"t":"Plot Of\u00a0\u00a0lon vs lat vs\u00a0\u00a0TS"}],
"key":[{"x":2096,"y":21}]
},
"encoding":{"x":{"field":"x","type":"quantitative","axis":null,"scale":{"domain":[0,2168],"nice":false,"zero":false}},"y":{"field":"y","type":"quantitative","axis":null,"scale":{"domain":[768,0],"nice":false,"zero":false}}},
"layer":[
{"data":{"name":"ell"},"mark":{"type":"line","interpolate":"cardinal-closed","strokeWidth":0,"filled":true,"fill":{"gradient":"linear","x1":0,"x2":1,"y1":0,"y2":0,"stops":[{"offset":0,"color":"#00c8a0"},{"offset":0.3,"color":"#00b08c"},{"offset":0.75,"color":"#009f80"},{"offset":0.95,"color":"#00a885"},{"offset":1,"color":"#00c49e"}]}},"encoding":{"detail":{"field":"s"},"order":{"field":"o","type":"quantitative"}}},
{"data":{"name":"sides"},"mark":{"type":"rect","fill":{"gradient":"linear","x1":0,"x2":1,"y1":0,"y2":0,"stops":[{"offset":0,"color":"#00c8a0"},{"offset":0.3,"color":"#00b08c"},{"offset":0.75,"color":"#009f80"},{"offset":0.95,"color":"#00a885"},{"offset":1,"color":"#00c49e"}]}},"encoding":{"x2":{"field":"x2"},"y2":{"field":"y2"}}},
{"data":{"name":"top"},"mark":{"type":"line","interpolate":"cardinal-closed","strokeWidth":0,"filled":true,"fill":"#009a7c"},"encoding":{"detail":{"field":"s"},"order":{"field":"o","type":"quantitative"}}},
{"data":{"name":"arrows"},"mark":{"type":"line","filled":true,"fill":"#00d4aa","stroke":"#000000","strokeWidth":2},"encoding":{"detail":{"field":"s"},"order":{"field":"o","type":"quantitative"}}},
{"data":{"name":"latg"},"mark":{"type":"rule","stroke":"#bdbdbd","strokeWidth":1.6,"clip":true},"encoding":{"x2":{"field":"x2"},"y2":{"field":"y2"}}},
{"data":{"name":"long"},"mark":{"type":"rule","stroke":"#c8c8c8","strokeWidth":1,"clip":true},"encoding":{"x2":{"field":"x2"},"y2":{"field":"y2"}}},
{"data":{"name":"ticks"},"mark":{"type":"rule","stroke":"#222222","strokeWidth":1.6},"encoding":{"x2":{"field":"x2"},"y2":{"field":"y2"}}},
{"data":{"name":"back"},"mark":{"type":"point","shape":"diamond","filled":true,"size":350,"fill":"#da8b7f","opacity":1}},
{"data":{"name":"pale"},"mark":{"type":"point","shape":"diamond","filled":true,"size":190,"fill":"#da8b7f","stroke":"#ffffff","strokeWidth":0.5,"opacity":1}},
{"data":{"name":"solid"},"mark":{"type":"point","shape":"diamond","filled":true,"size":190,"fill":"#b81a00","opacity":1}},
{"data":{"name":"core"},"mark":{"type":"point","shape":"diamond","filled":true,"size":620,"fill":"#b81a00","opacity":1}},
{"data":{"name":"key"},"mark":{"type":"point","shape":"diamond","filled":true,"size":100,"fill":"#da8b7f","opacity":1}},
{"data":{"name":"zaxis"},"mark":{"type":"rule","stroke":"#333333","strokeWidth":2},"encoding":{"x2":{"field":"x2"},"y2":{"field":"y2"}}},
{"data":{"name":"serif"},"mark":{"type":"text","font":"Liberation Serif","fontSize":64,"align":"center","baseline":"middle","fill":"#000000"},"encoding":{"text":{"field":"t"}}},
{"data":{"name":"mono"},"mark":{"type":"text","font":"Liberation Mono","fontSize":22,"align":"left","baseline":"middle","fill":"#222222"},"encoding":{"text":{"field":"t"}}},
{"data":{"name":"titles"},"mark":{"type":"text","font":"Liberation Mono","fontSize":23,"align":"left","baseline":"middle","fill":"#222222","clip":true},"encoding":{"text":{"field":"t"}}},
{"data":{"name":"plot"},"mark":{"type":"text","font":"Liberation Mono","fontSize":23,"align":"left","baseline":"middle","fill":"#c9402c"},"encoding":{"text":{"field":"t"}}}
]}
